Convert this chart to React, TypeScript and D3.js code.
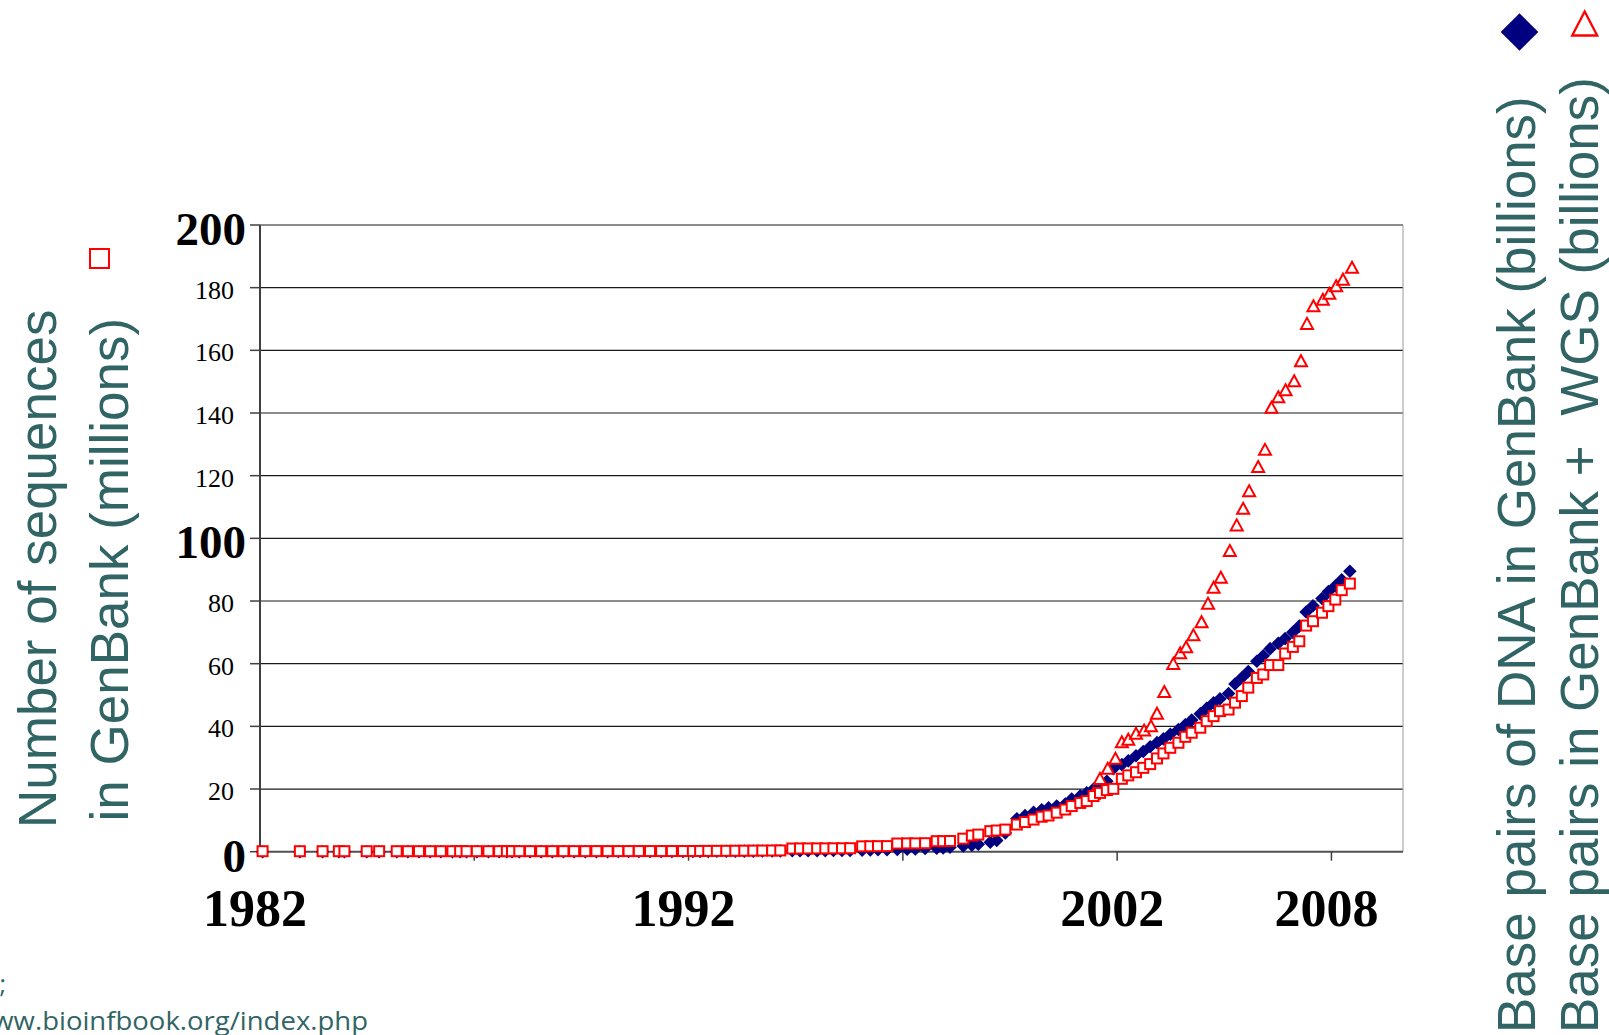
import React from "react";
import * as d3 from "d3";

// ---- data ----
const releaseYears = [
  1982.06, 1982.93, 1983.46, 1983.84, 1983.97, 1984.49, 1984.78,
  1985.19, 1985.45, 1985.71, 1985.97, 1986.22, 1986.49, 1986.67, 1986.82, 1987.06, 1987.33,
  1987.58, 1987.76, 1987.88, 1988.05, 1988.3, 1988.56, 1988.82, 1989.08, 1989.33, 1989.59,
  1989.85, 1990.11, 1990.36, 1990.6, 1990.84, 1991.1, 1991.36, 1991.61, 1991.87, 1992.1,
  1992.27, 1992.46, 1992.66, 1992.88, 1993.09, 1993.3, 1993.51, 1993.72, 1993.95, 1994.14,
  1994.42, 1994.6, 1994.79, 1995.0, 1995.19, 1995.38, 1995.58, 1995.77, 1996.05, 1996.24,
  1996.42, 1996.63, 1996.87, 1997.1, 1997.29, 1997.52, 1997.79, 1997.94, 1998.1, 1998.41,
  1998.61, 1998.76, 1999.04, 1999.19, 1999.39, 1999.66, 1999.85, 2000.05, 2000.24, 2000.4,
  2000.59, 2000.79, 2000.94, 2001.14, 2001.29,
  2001.45, 2001.6, 2001.76, 2001.91, 2002.11, 2002.26, 2002.44, 2002.61, 2002.77, 2002.93,
  2003.08, 2003.24, 2003.43, 2003.59, 2003.74, 2003.94, 2004.09, 2004.25, 2004.4,
  2004.6, 2004.75, 2004.91, 2005.06, 2005.26, 2005.41, 2005.57, 2005.76, 2005.92,
  2006.1, 2006.25, 2006.41, 2006.57, 2006.78, 2006.93, 2007.09, 2007.24, 2007.43,
];

// Number of sequences in GenBank (millions) — open squares
const sequencesMillions = [
  0.0006, 0.001, 0.0017, 0.0024, 0.0028, 0.0037, 0.0042,
  0.0048, 0.0053, 0.0057, 0.0062, 0.0072, 0.0085, 0.0093, 0.0096, 0.0109, 0.0124,
  0.0137, 0.0146, 0.0151, 0.0166, 0.0181, 0.0195, 0.021, 0.0232, 0.0255, 0.0275,
  0.0295, 0.0318, 0.0345, 0.0372, 0.0395, 0.0425, 0.0482, 0.0516, 0.0556, 0.0586,
  0.08, 0.09, 0.1, 0.12, 0.14, 0.16, 0.18, 0.2, 0.22, 0.25,
  0.85, 0.87, 0.88, 0.9, 0.9, 0.92, 0.93, 0.95, 1.55, 1.58,
  1.6, 1.62, 2.45, 2.5, 2.5, 2.55, 3.2, 3.2, 3.25, 4.0,
  5.0, 5.3, 6.4, 6.6, 6.9, 8.5, 9.3, 10.1, 11.0, 11.4,
  12.3, 13.3, 14.4, 15.4, 16.0,
  17.6, 18.6, 19.5, 19.9, 23.1, 24.2, 25.2, 26.6, 27.8, 29.6,
  31.2, 33.0, 34.6, 36.5, 37.8, 39.4, 41.5, 43.1, 44.7,
  45.2, 47.4, 49.5, 52.2, 55.3, 56.4, 59.4, 59.4, 63.1,
  65.2, 67.0, 72.0, 73.4, 76.1, 78.2, 80.3, 83.3, 85.4,
];

// Base pairs of DNA in GenBank (billions) — filled diamonds
const basePairsBillions = [
  0.0007, 0.0014, 0.002, 0.0023, 0.0027, 0.0033, 0.0036,
  0.0041, 0.0046, 0.0051, 0.0058, 0.0068, 0.0083, 0.0093, 0.0097, 0.0115, 0.013,
  0.0146, 0.0155, 0.0161, 0.0178, 0.0197, 0.0213, 0.0232, 0.0263, 0.0293, 0.0318,
  0.0349, 0.0378, 0.0408, 0.0443, 0.0492, 0.0554, 0.0653, 0.0719, 0.0785, 0.0843,
  0.1, 0.1, 0.12, 0.14, 0.15, 0.17, 0.19, 0.2, 0.22, 0.25,
  0.28, 0.3, 0.31, 0.33, 0.35, 0.37, 0.38, 0.4, 0.5, 0.55,
  0.6, 0.65, 0.7, 0.8, 0.9, 1.0, 1.1, 1.2, 1.4, 1.8,
  2.1, 2.4, 3.0, 3.6, 6.0, 10.5, 11.5, 12.6, 13.4, 14.0,
  14.6, 15.2, 16.8, 17.8, 18.8,
  20.0, 21.5, 22.5, 26.5, 27.8, 29.0, 30.6, 32.0, 33.5, 34.8,
  36.0, 37.5, 39.0, 40.5, 42.0, 44.0, 45.8, 47.5, 48.8,
  50.5, 53.5, 55.5, 57.5, 60.8, 62.5, 64.8, 66.5, 68.0,
  70.0, 72.0, 76.5, 78.5, 80.8, 83.0, 84.8, 86.8, 89.5,
];

// Base pairs in GenBank + WGS (billions) — open triangles
const wgsYears = [
  2001.45, 2001.6, 2001.78, 2001.96, 2002.11, 2002.26, 2002.44, 2002.63, 2002.79, 2002.93,
  2003.1, 2003.31, 2003.47, 2003.61, 2003.78, 2003.97, 2004.12, 2004.25, 2004.42,
  2004.63, 2004.79, 2004.94, 2005.08, 2005.29, 2005.45, 2005.6, 2005.76, 2005.93,
  2006.13, 2006.29, 2006.43, 2006.58, 2006.8, 2006.95, 2007.11, 2007.27, 2007.48,
];
const wgsBillions = [
  18.6, 23.4, 26.6, 29.8, 35.1, 35.9, 37.8, 38.8, 40.2, 44.2,
  51.1, 60.1, 63.5, 65.4, 69.2, 73.4, 79.3, 84.4, 87.6,
  96.1, 104.3, 109.6, 115.2, 122.9, 128.4, 141.8, 145.2, 147.4,
  150.3, 156.7, 168.6, 174.2, 176.3, 178.2, 180.6, 182.7, 186.5,
];

const yTicks = [0, 20, 40, 60, 80, 100, 120, 140, 160, 180, 200];
const yBoldTicks = [0, 100, 200];
const xTickYears = [1987, 1992, 1997, 2002, 2007];
const xLabels = [
  { text: "1982", at: 1982 },
  { text: "1992", at: 1992 },
  { text: "2002", at: 2002 },
  { text: "2008", at: 2007 },
];

const leftTitle = ["Number of sequences", "in GenBank (millions)"];
const rightTitle = ["Base pairs of DNA in GenBank (billions)", "Base pairs in GenBank +  WGS (billions)"];

// ---- layout ----
const W = 1609;
const H = 1035;
const plotLeft = 260;
const plotRight = 1403;
const plotTop = 225;
const plotBottom = 851.7;

const TEAL = "#316464";
const RED = "#FF0000";
const NAVY = "#000080";
const SERIF = "'Liberation Serif','Times New Roman',Times,serif";
const SANS = "'Liberation Sans',Arial,Helvetica,sans-serif";

export default function App() {
  const x = d3.scaleLinear().domain([1982, 2008.67]).range([plotLeft, plotRight]);
  const y = d3.scaleLinear().domain([0, 200]).range([plotBottom, plotTop]);

  const diamond = (r: number) => `M0,${-r}L${r},0L0,${r}L${-r},0Z`;
  const triangle = (w: number, h: number) => `M0,${-h}L${w},${h}L${-w},${h}Z`;

  return (
    <svg
      width={W}
      height={H}
      viewBox={`0 0 ${W} ${H}`}
      style={{ position: "absolute", left: 0, top: 0, background: "#fff" }}
    >
      <rect x={0} y={0} width={W} height={H} fill="#fff" />

      {/* gridlines */}
      {yTicks.filter((t) => t > 0).map((t) => (
        <line key={"g" + t} x1={plotLeft} x2={plotRight} y1={y(t)} y2={y(t)} stroke="#1a1a1a" strokeWidth={1.2} />
      ))}
      {/* right border */}
      <line x1={plotRight} x2={plotRight} y1={plotTop} y2={plotBottom} stroke="#9a9a9a" strokeWidth={1} />

      {/* y axis */}
      <line x1={plotLeft} x2={plotLeft} y1={plotTop} y2={plotBottom + 1} stroke="#404040" strokeWidth={2} />
      {yTicks.map((t) => (
        <line key={"yt" + t} x1={plotLeft - 10} x2={plotLeft} y1={y(t)} y2={y(t)} stroke="#404040" strokeWidth={1.5} />
      ))}
      {/* x axis */}
      <line x1={plotLeft} x2={plotRight} y1={plotBottom} y2={plotBottom} stroke="#505050" strokeWidth={2} />
      {xTickYears.map((t) => (
        <line key={"xt" + t} x1={x(t)} x2={x(t)} y1={plotBottom} y2={plotBottom + 9} stroke="#404040" strokeWidth={1.5} />
      ))}

      {/* diamonds */}
      <g fill={NAVY}>
        {releaseYears.map((yr, i) => (
          <path key={"d" + i} d={diamond(6.8)} transform={`translate(${x(yr)},${y(basePairsBillions[i])})`} />
        ))}
      </g>
      {/* triangles */}
      <g fill="#fff" stroke={RED} strokeWidth={2}>
        {wgsYears.map((yr, i) => (
          <path key={"t" + i} d={triangle(6, 5.5)} transform={`translate(${x(yr)},${y(wgsBillions[i])})`} />
        ))}
      </g>
      {/* squares */}
      <g fill="#fff" stroke={RED} strokeWidth={2}>
        {releaseYears.map((yr, i) => (
          <rect key={"s" + i} x={x(yr) - 5} y={y(sequencesMillions[i]) - 5.5} width={10} height={10} />
        ))}
      </g>

      {/* y tick labels */}
      {yTicks.map((t) => {
        const bold = yBoldTicks.includes(t);
        return (
          <text
            key={"yl" + t}
            x={bold ? 246 : 234}
            y={y(t) + (bold ? 20 : 11)}
            textAnchor="end"
            fontFamily={SERIF}
            fontWeight={bold ? "bold" : "normal"}
            fontSize={bold ? 47 : 26}
            fill="#000"
          >
            {t}
          </text>
        );
      })}

      {/* x labels */}
      {xLabels.map((l) => (
        <text
          key={l.text}
          x={x(l.at) - 5}
          y={926}
          textAnchor="middle"
          fontFamily={SERIF}
          fontWeight="bold"
          fontSize={52}
          fill="#000"
        >
          {l.text}
        </text>
      ))}

      {/* left title */}
      <text transform="translate(56,828) rotate(-90)" fontFamily={SANS} fontSize={53} fill={TEAL}>
        {leftTitle[0]}
      </text>
      <text transform="translate(128,821.5) rotate(-90)" fontFamily={SANS} fontSize={53} fill={TEAL}>
        {leftTitle[1]}
      </text>
      <rect x={90} y={249} width={19} height={19} fill="#fff" stroke={RED} strokeWidth={2} />

      {/* right titles */}
      <text transform="translate(1535,1033) rotate(-90)" fontFamily={SANS} fontSize={53} fill={TEAL}>
        {rightTitle[0]}
      </text>
      <text
        transform="translate(1598,1033) rotate(-90)"
        fontFamily={SANS}
        fontSize={53}
        fill={TEAL}
        style={{ whiteSpace: "pre" }}
      >
        {rightTitle[1]}
      </text>
      <path d={diamond(18.8)} transform="translate(1519.5,32)" fill={NAVY} />
      <path d={triangle(12.5, 12)} transform="translate(1584.7,23.5)" fill="#fff" stroke={RED} strokeWidth={2.3} />

      {/* source note, cut off at the left edge */}
      <text x={6} y={993} textAnchor="end" fontFamily="'Open Sans',sans-serif" fontSize={25} fill={TEAL}>
        ;
      </text>
      <text
        x={-29}
        y={1030}
        fontFamily="'Open Sans',sans-serif"
        fontSize={25}
        fill={TEAL}
        textLength={397}
        lengthAdjust="spacingAndGlyphs"
      >
        www.bioinfbook.org/index.php
      </text>
    </svg>
  );
}
